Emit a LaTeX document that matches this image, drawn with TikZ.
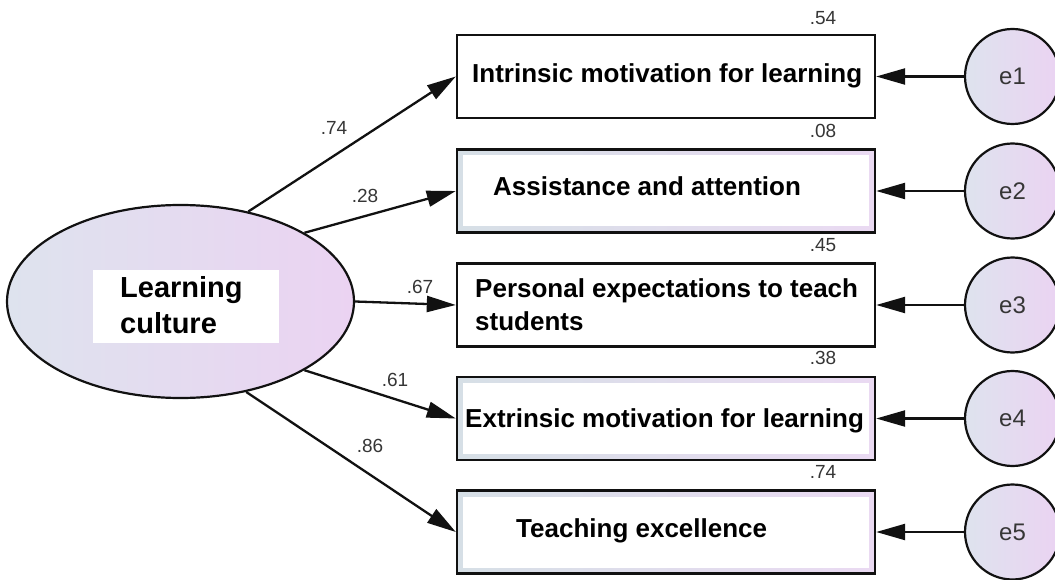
\documentclass[tikz,border=0pt]{standalone}
\usepackage{fontspec}
\setmainfont{Liberation Sans}
\usetikzlibrary{arrows.meta,shapes.geometric}
\definecolor{ink}{HTML}{111111}
\definecolor{numgray}{HTML}{363636}
\definecolor{shadeA}{HTML}{DEE3EE}
\definecolor{shadeB}{HTML}{EBD3F2}
\definecolor{frameA}{HTML}{D6DFE6}
\definecolor{frameB}{HTML}{EADAF2}
\begin{document}
\begin{tikzpicture}[x=1pt,y=-1pt,
  obsbox/.style={draw=ink, line width=2.4pt, minimum width=418pt, minimum height=83pt, inner sep=0pt, fill=white},
  tintbox/.style={obsbox, left color=frameA, right color=frameB,
    path picture={\fill[white] ([shift={(6pt,-6pt)}]path picture bounding box.north west)
      rectangle ([shift={(-6pt,6pt)}]path picture bounding box.south east);}},
  errnode/.style={circle, draw=ink, line width=2.2pt, minimum size=95pt, inner sep=0pt,
    left color=shadeA, right color=shadeB, text=numgray, font=\fontsize{24}{28}\selectfont},
  boxtext/.style={anchor=base west, inner sep=0pt, font=\bfseries\fontsize{26}{30}\selectfont},
  coef/.style={inner sep=0pt, text=numgray, font=\fontsize{19}{22}\selectfont},
  pathline/.style={draw=ink, line width=2.3pt, -{Triangle[length=29pt,width=16pt]}}
]
\clip (0,0) rectangle (1055,580);
\fill[white] (0,0) rectangle (1055,580);

% latent factor
\node[ellipse, draw=ink, line width=2.2pt, minimum width=347pt, minimum height=193pt,
  inner sep=0pt, left color=shadeA, right color=shadeB] (lc) at (180.5,301.5) {};
\node[fill=white, minimum width=186pt, minimum height=73pt, inner sep=0pt] (lcbg) at (186,306.5) {};
\node[boxtext, font=\bfseries\fontsize{29}{34}\selectfont] (lct1) at (120,298) {Learning};
\node[boxtext, font=\bfseries\fontsize{29}{34}\selectfont] (lct2) at (120,333) {culture};

% observed indicators
\node[obsbox]  (b1) at (666,76.5) {};
\node[tintbox] (b2) at (666,191) {};
\node[obsbox]  (b3) at (666,305) {};
\node[tintbox] (b4) at (666,418.5) {};
\node[tintbox] (b5) at (666,532) {};

\node[boxtext] (t1)  at (472,83)  {Intrinsic motivation for learning};
\node[boxtext] (t2)  at (493,196) {Assistance and attention};
\node[boxtext] (t3a) at (475,297) {Personal expectations to teach};
\node[boxtext] (t3b) at (475,330) {students};
\node[boxtext] (t4)  at (465,427) {Extrinsic motivation for learning};
\node[boxtext] (t5)  at (516,537) {Teaching excellence};

% error terms
\node[errnode] (e1) at (1012.5,76.5) {e1};
\node[errnode] (e2) at (1012.5,191) {e2};
\node[errnode] (e3) at (1012.5,305) {e3};
\node[errnode] (e4) at (1012.5,418.5) {e4};
\node[errnode] (e5) at (1012.5,532) {e5};

% loadings
\draw[pathline] (lc.53)  -- (b1.west);
\draw[pathline] (lc.29)  -- (b2.west);
\draw[pathline] (lc.0)   -- (b3.west);
\draw[pathline] (lc.-29) -- (b4.west);
\draw[pathline] (lc.-54) -- (b5.west);

\foreach \i in {1,...,5}{\draw[pathline] (e\i) -- (b\i.east);}

% standardized loadings
\node[coef] (p1) at (334,128) {.74};
\node[coef] (p2) at (365,196) {.28};
\node[coef] (p3) at (420,287) {.67};
\node[coef] (p4) at (395,380) {.61};
\node[coef] (p5) at (370,446) {.86};

% squared multiple correlations
\node[coef] (r1) at (823,18)  {.54};
\node[coef] (r2) at (823,131) {.08};
\node[coef] (r3) at (823,245) {.45};
\node[coef] (r4) at (823,358) {.38};
\node[coef] (r5) at (823,472) {.74};
\end{tikzpicture}
\end{document}
